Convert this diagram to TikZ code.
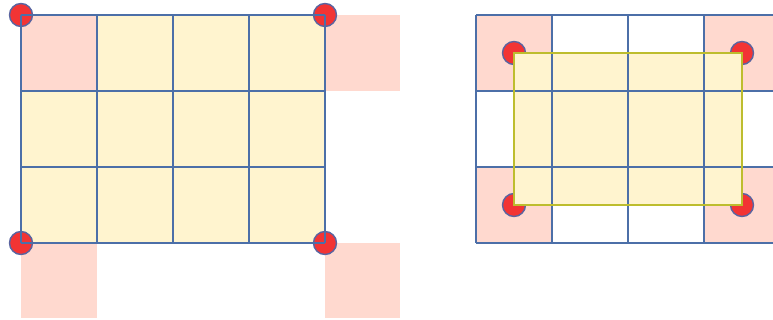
\documentclass[tikz,border=0pt]{standalone}
\begin{document}
\begin{tikzpicture}[x=1pt,y=-1pt,
  gridline/.style={draw=gridblue,line width=1.8pt},
  pinkcell/.style={fill=pinkfill},
  dot/.style={fill=dotred,draw=dotedge,line width=1.4pt},
  ]
\definecolor{gridblue}{HTML}{4C6FA8}
\definecolor{pinkfill}{HTML}{FFD9CF}
\definecolor{yellowfill}{HTML}{FFF4CF}
\definecolor{dotred}{HTML}{F23434}
\definecolor{dotedge}{HTML}{5A64A0}
\definecolor{olive}{HTML}{BDBD2E}
\useasboundingbox (0,0) rectangle (773,320);
% ---------- left ----------
\fill[yellowfill] (21,15) rectangle (325,243);
\fill[pinkcell] (21,15) rectangle (97,91);
\fill[pinkcell] (325,15) rectangle (400,91);
\fill[pinkcell] (21,243) rectangle (97,318);
\fill[pinkcell] (325,243) rectangle (400,318);
\foreach \p in {(21,15),(325,15),(21,243),(325,243)}
  \draw[dot] \p circle (11.5);
\foreach \x in {21,97,173,249,325}
  \draw[gridline] (\x,15) -- (\x,243);
\foreach \y in {15,91,167,243}
  \draw[gridline] (21,\y) -- (325,\y);
% ---------- right ----------
\fill[pinkcell] (476,15) rectangle (552,91);
\fill[pinkcell] (704,15) rectangle (780,91);
\fill[pinkcell] (476,167) rectangle (552,243);
\fill[pinkcell] (704,167) rectangle (780,243);
\foreach \p in {(514,53),(742,53),(514,205),(742,205)}
  \draw[dot] \p circle (11.5);
\fill[yellowfill] (514,53) rectangle (742,205);
\foreach \x in {476,552,628,704,780}
  \draw[gridline] (\x,15) -- (\x,243);
\foreach \y in {15,91,167,243}
  \draw[gridline] (476,\y) -- (780,\y);
\draw[olive,line width=1.8pt] (514,53) rectangle (742,205);
\end{tikzpicture}
\end{document}
